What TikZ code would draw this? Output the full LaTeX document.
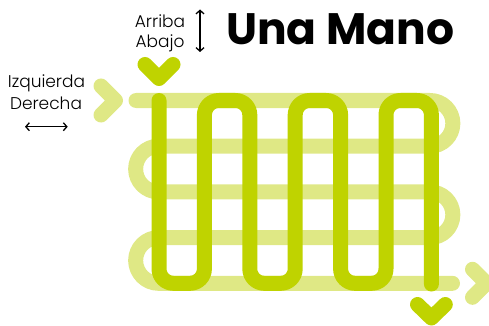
\documentclass[tikz,border=0pt]{standalone}
\usepackage{fontspec}
\setmainfont{Poppins}
\newfontfamily\lightfont{Poppins Light}
\usepackage{tikz}
\usetikzlibrary{arrows.meta,positioning}
\definecolor{limedark}{RGB}{191,211,0}
\definecolor{limelight}{RGB}{223,232,133}

\begin{document}
\begin{tikzpicture}[x=1pt, y=-1pt, line cap=round, line join=round,
    lightline/.style={draw=limelight, line width=15pt},
    darkline/.style={draw=limedark, line width=15pt},
    hint/.style={arrows={Straight Barb[length=3.5pt, width=8pt]-Straight Barb[length=3.5pt, width=8pt]}, line width=1.3pt}]
   \useasboundingbox (0,0) rectangle (489,326);
   % labels
   \begin{scope}[every node/.style={inner sep=0pt, font=\lightfont\fontsize{17}{20}\selectfont}]
    \node (arriba) [anchor=base] at (160,27.7) {Arriba};
    \node (abajo) [anchor=base] at (160,47.3) {Abajo};
    \node (izq) [anchor=base] at (46.5,87.7) {Izquierda};
    \node (der) [anchor=base] at (46,109.3) {Derecha};
   \end{scope}
   \node (titulo) [anchor=base west, inner sep=0pt, font=\bfseries\fontsize{44}{50}\selectfont] at (226,45) {Una Mano};
   % direction hints
   \coordinate (ud1) at (200,9.5);
   \coordinate (ud2) at (200,52);
   \coordinate (lr1) at (25,126.7);
   \coordinate (lr2) at (67.7,126.7);
   \draw[hint] (ud1) -- (ud2);
   \draw[hint] (lr1) -- (lr2);
   % left-right pass
   \draw[lightline] (136,100.5) -- (430,100.5)
      arc[start angle=90, end angle=-90, radius=22.85pt] -- (158.5,146.2)
      arc[start angle=90, end angle=270, radius=22.85pt] -- (430,191.9)
      arc[start angle=90, end angle=-90, radius=22.85pt] -- (158.5,237.6)
      arc[start angle=90, end angle=270, radius=22.85pt] -- (452.5,283.3);
   \draw[lightline] (101,86) -- (115.5,100.5) -- (101,115);
   \draw[lightline] (472.5,269.3) -- (486.5,283.3) -- (472.5,297.3);
   % up-down pass
   \draw[darkline, rounded corners=14.5pt] (159,100.5) -- (159,283.3) -- (204.4,283.3) -- (204.4,100.5)
      -- (249.8,100.5) -- (249.8,283.3) -- (295.2,283.3) -- (295.2,100.5)
      -- (340.6,100.5) -- (340.6,283.3) -- (386,283.3) -- (386,100.5)
      -- (431.4,100.5) -- (431.4,284);
   \draw[darkline] (145,64.5) -- (159,78.5) -- (173,64.5);
   \draw[darkline] (417.5,304.5) -- (431.4,318) -- (445.3,304.5);
\end{tikzpicture}
\end{document}
